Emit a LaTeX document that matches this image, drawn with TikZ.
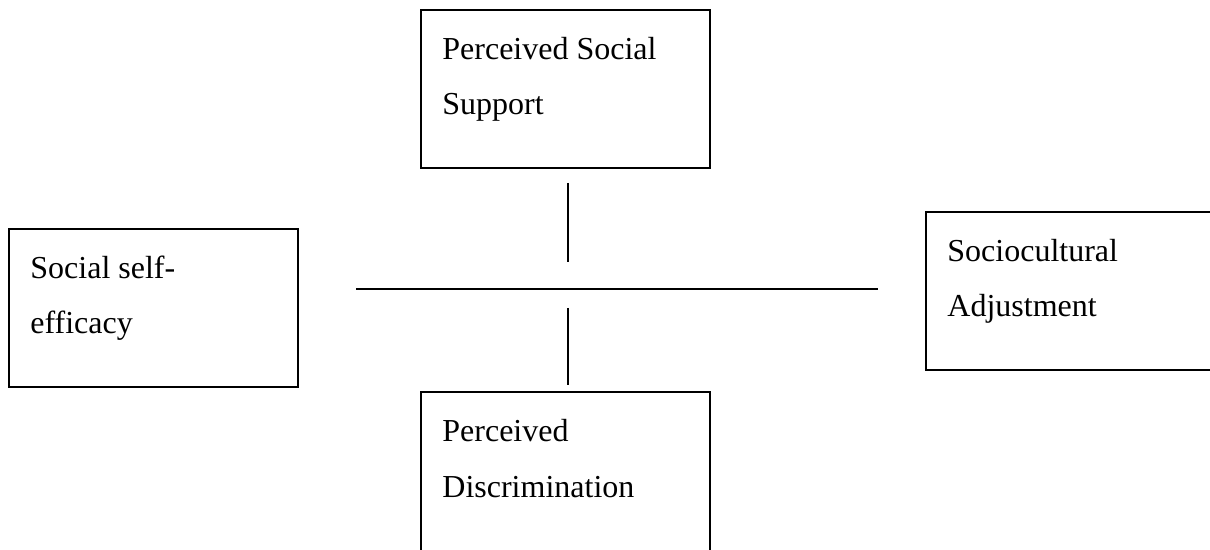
\documentclass[tikz,border=0pt]{standalone}
\usepackage{fontspec}
\setmainfont{Liberation Serif}
\usetikzlibrary{calc}
\begin{document}
\begin{tikzpicture}[x=0.5pt,y=-0.5pt,
  box/.style={draw=black,line width=0.8pt,rectangle,anchor=north west,
    minimum width=144.5pt,minimum height=79pt,inner sep=0pt,outer sep=0pt},
  lbl/.style={anchor=base west,inner sep=0pt,font=\fontsize{16pt}{27.5pt}\selectfont},
  conn/.style={draw=black,line width=0.8pt}]
\useasboundingbox (0,0) rectangle (1210,550);
% boxes
\node[box] (pss) at (421,10) {};
\node[box] (sse) at (9,229) {};
\node[box,minimum width=160pt] (sca) at (926,212) {};
\node[box,minimum height=90pt] (pd)  at (421,392) {};
% labels
\node[lbl] (pss1) at ($(pss.north west)+(21,50)$) {Perceived Social};
\node[lbl] (pss2) at ($(pss.north west)+(21,105)$) {Support};
\node[lbl] (sse1) at ($(sse.north west)+(21,50)$) {Social self-};
\node[lbl] (sse2) at ($(sse.north west)+(21,105)$) {efficacy};
\node[lbl] (sca1) at ($(sca.north west)+(21,50)$) {Sociocultural};
\node[lbl] (sca2) at ($(sca.north west)+(21,105)$) {Adjustment};
\node[lbl] (pd1) at ($(pd.north west)+(21,50)$) {Perceived};
\node[lbl] (pd2) at ($(pd.north west)+(21,105)$) {Discrimination};
% connector coordinates
\coordinate (hl) at (356,289);
\coordinate (hr) at (878,289);
\coordinate (ut) at (568,183);
\coordinate (ub) at (568,262);
\coordinate (lt) at (568,308);
\coordinate (lb) at (568,385);
\draw[conn] (hl) -- (hr);
\draw[conn] (ut) -- (ub);
\draw[conn] (lt) -- (lb);
\end{tikzpicture}
\end{document}
